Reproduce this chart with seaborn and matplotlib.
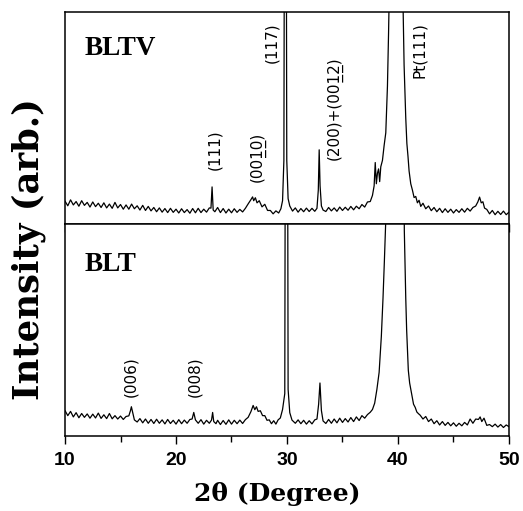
import matplotlib
matplotlib.use("Agg")
import matplotlib.pyplot as plt
from matplotlib.ticker import MultipleLocator
import seaborn as sns
import pandas as pd

# ---------------- data (intensity in % of panel height) ----------------
two_theta_bltv = [
    10.00, 10.25, 10.50, 10.75, 11.00, 11.25, 11.50, 11.75, 12.00, 12.25, 12.50, 12.75,
    13.00, 13.25, 13.50, 13.75, 14.00, 14.25, 14.50, 14.75, 15.00, 15.25, 15.50, 15.75,
    16.00, 16.25, 16.50, 16.75, 17.00, 17.25, 17.50, 17.75, 18.00, 18.25, 18.50, 18.75,
    19.00, 19.25, 19.50, 19.75, 20.00, 20.25, 20.50, 20.75, 21.00, 21.25, 21.50, 21.75,
    22.00, 22.25, 22.50, 22.75, 23.00, 23.15, 23.25, 23.35, 23.50, 23.75, 24.00, 24.25,
    24.50, 24.75, 25.00, 25.25, 25.50, 25.75, 26.00, 26.25, 26.50, 26.75, 26.90, 27.00,
    27.15, 27.30, 27.50, 27.75, 28.00, 28.25, 28.50, 28.75, 29.00, 29.25, 29.45, 29.60,
    29.72, 29.82, 29.88, 29.98, 30.10, 30.25, 30.50, 30.75, 31.00, 31.25, 31.50, 31.75,
    32.00, 32.25, 32.50, 32.70, 32.82, 32.90, 32.98, 33.10, 33.25, 33.50, 33.75, 34.00,
    34.25, 34.50, 34.75, 35.00, 35.25, 35.50, 35.75, 36.00, 36.25, 36.50, 36.75, 37.00,
    37.25, 37.50, 37.70, 37.85, 37.95, 38.05, 38.15, 38.25, 38.35, 38.45, 38.60, 38.75,
    38.90, 39.05, 39.15, 39.25, 39.50, 40.00, 40.40, 40.55, 40.70, 40.80, 40.90, 41.00,
    41.15, 41.30, 41.45, 41.60, 41.75, 41.90, 42.05, 42.25, 42.50, 42.75, 43.00, 43.25,
    43.50, 43.75, 44.00, 44.25, 44.50, 44.75, 45.00, 45.25, 45.50, 45.75, 46.00, 46.25,
    46.50, 46.75, 47.00, 47.20, 47.35, 47.50, 47.65, 47.80, 48.00, 48.25, 48.50, 48.75,
    49.00, 49.25, 49.50, 49.75, 50.00,
]
intensity_bltv = [
    10.8, 8.6, 11.4, 9.0, 10.6, 8.4, 11.0, 8.8, 10.2, 8.0, 10.4, 8.2,
    9.8, 7.8, 10.0, 7.6, 9.4, 7.4, 10.2, 7.6, 9.2, 7.0, 9.0, 7.0,
    9.4, 7.2, 8.6, 6.6, 8.8, 6.4, 8.3, 6.2, 7.8, 5.8, 7.6, 5.6,
    7.3, 5.4, 7.4, 5.5, 7.0, 5.2, 7.2, 5.4, 6.8, 5.1, 7.3, 5.3,
    7.4, 5.4, 7.0, 5.6, 7.6, 7.5, 17.5, 6.6, 5.8, 7.8, 5.4, 7.3,
    5.2, 7.0, 5.3, 7.2, 5.5, 6.9, 5.7, 7.4, 9.5, 11.5, 12.8, 11.0,
    12.4, 10.0, 11.0, 8.1, 9.3, 6.4, 6.4, 4.8, 6.2, 5.2, 7.2, 11.0,
    30.0, 300.0, 300.0, 30.0, 12.0, 8.5, 6.1, 7.6, 5.6, 7.3, 5.8, 7.5,
    5.9, 7.4, 6.0, 7.4, 16.0, 35.0, 18.0, 8.5, 6.6, 5.9, 7.8, 6.2,
    7.6, 6.0, 8.0, 6.4, 7.9, 6.5, 8.3, 6.7, 8.4, 7.2, 9.2, 8.0,
    10.4, 10.6, 13.5, 18.0, 29.0, 19.0, 24.0, 26.0, 20.0, 27.0, 30.0, 37.0,
    43.0, 65.0, 90.0, 120.0, 300.0, 300.0, 120.0, 75.0, 50.0, 38.0, 32.0, 25.0,
    19.0, 16.0, 12.5, 13.0, 10.0, 11.2, 8.3, 9.8, 7.2, 8.5, 6.3, 7.8,
    5.8, 7.4, 5.4, 7.2, 5.5, 7.0, 5.2, 6.8, 5.5, 7.2, 5.6, 7.4,
    6.1, 7.8, 8.5, 10.5, 12.7, 10.0, 10.5, 7.5, 6.9, 4.8, 6.4, 4.4,
    6.0, 4.5, 6.1, 4.4, 5.6,
]

two_theta_blt = [
    10.00, 10.25, 10.50, 10.75, 11.00, 11.25, 11.50, 11.75, 12.00, 12.25, 12.50, 12.75,
    13.00, 13.25, 13.50, 13.75, 14.00, 14.25, 14.50, 14.75, 15.00, 15.25, 15.50, 15.75,
    15.90, 15.98, 16.10, 16.25, 16.50, 16.75, 17.00, 17.25, 17.50, 17.75, 18.00, 18.25,
    18.50, 18.75, 19.00, 19.25, 19.50, 19.75, 20.00, 20.25, 20.50, 20.75, 21.00, 21.25,
    21.45, 21.60, 21.75, 22.00, 22.25, 22.50, 22.75, 23.00, 23.20, 23.30, 23.40, 23.60,
    23.75, 24.00, 24.25, 24.50, 24.75, 25.00, 25.25, 25.50, 25.75, 26.00, 26.25, 26.50,
    26.75, 26.95, 27.10, 27.25, 27.40, 27.60, 27.80, 28.00, 28.20, 28.40, 28.60, 28.80,
    29.00, 29.20, 29.40, 29.60, 29.80, 29.90, 30.00, 30.10, 30.25, 30.45, 30.75, 31.00,
    31.25, 31.50, 31.75, 32.00, 32.25, 32.50, 32.70, 32.85, 32.97, 33.10, 33.25, 33.50,
    33.75, 34.00, 34.25, 34.50, 34.75, 35.00, 35.25, 35.50, 35.75, 36.00, 36.25, 36.50,
    36.75, 37.00, 37.25, 37.50, 37.70, 37.90, 38.10, 38.30, 38.50, 38.65, 38.77, 38.92,
    39.20, 40.30, 40.57, 40.70, 40.78, 40.93, 41.05, 41.23, 41.40, 41.55, 41.70, 41.85,
    42.00, 42.25, 42.50, 42.75, 43.00, 43.25, 43.50, 43.75, 44.00, 44.25, 44.50, 44.75,
    45.00, 45.25, 45.50, 45.75, 46.00, 46.25, 46.50, 46.75, 47.00, 47.25, 47.40, 47.55,
    47.75, 48.00, 48.25, 48.50, 48.75, 49.00, 49.25, 49.50, 49.75, 50.00,
]
intensity_blt = [
    12.0, 9.6, 11.6, 9.0, 11.0, 8.6, 10.6, 8.8, 10.4, 8.4, 10.3, 8.5,
    10.8, 8.3, 10.0, 8.2, 10.6, 8.1, 9.6, 8.0, 9.4, 7.8, 9.2, 9.5,
    12.0, 13.8, 11.0, 7.6, 6.6, 8.2, 6.2, 8.0, 6.0, 7.8, 5.9, 7.9,
    6.0, 7.6, 5.7, 7.8, 5.9, 7.4, 5.6, 7.7, 5.8, 7.5, 6.0, 7.8,
    8.0, 11.1, 7.6, 6.0, 7.7, 5.6, 7.4, 6.0, 7.5, 11.1, 6.8, 5.8,
    7.4, 5.4, 7.3, 5.5, 7.6, 5.6, 7.4, 5.8, 7.5, 5.9, 7.7, 8.8,
    11.5, 14.4, 12.4, 13.8, 11.6, 11.9, 9.6, 9.6, 7.4, 7.6, 5.8, 7.2,
    5.6, 7.6, 8.5, 12.5, 20.0, 300.0, 300.0, 22.0, 11.0, 7.5, 6.0, 7.6,
    5.8, 7.4, 5.6, 7.2, 5.7, 7.6, 8.0, 15.0, 25.0, 12.0, 7.1, 5.9,
    7.8, 6.0, 8.0, 6.2, 8.4, 6.4, 8.2, 6.6, 8.7, 6.8, 9.0, 7.3,
    9.6, 8.4, 10.1, 11.2, 12.5, 15.5, 22.0, 30.0, 47.0, 65.0, 82.0, 105.0,
    300.0, 300.0, 97.0, 65.0, 50.0, 31.0, 25.0, 20.0, 15.0, 13.5, 11.3, 10.5,
    9.8, 8.0, 9.2, 6.8, 8.0, 5.8, 7.2, 5.2, 6.8, 5.0, 6.4, 4.8,
    6.2, 4.6, 6.0, 4.8, 6.4, 5.2, 8.0, 6.0, 8.0, 7.8, 9.0, 6.8,
    8.4, 5.0, 5.4, 4.4, 5.6, 4.2, 5.4, 4.0, 5.2, 4.4,
]

x_ticks = [10, 20, 30, 40, 50]
x_tick_labels = ["10", "20", "30", "40", "50"]

# peak annotations (underlined two-digit indices via combining low line)
lbl_0010 = "(001\u03320\u0332)"
lbl_0012 = "(200)+(001\u03322\u0332)"

bltv_peak_labels = ["(111)", lbl_0010, "(117)", lbl_0012, "Pt(111)"]
bltv_peak_x = [23.5, 27.4, 28.65, 34.3, 41.9]
bltv_peak_y = [25.5, 19.8, 76.0, 30.0, 69.0]

blt_peak_labels = ["(006)", "(008)"]
blt_peak_x = [15.95, 21.7]
blt_peak_y = [18.4, 18.4]

# ---------------- figure ----------------
sns.set_theme(style="ticks")
plt.rcParams["font.family"] = ["DejaVu Sans"]
plt.rcParams["text.color"] = "black"
plt.rcParams["xtick.color"] = "black"

fig = plt.figure(figsize=(5.23, 5.11), dpi=100)
ax_top = fig.add_axes([0.1243, 0.5616, 0.8489, 0.4149])
ax_bot = fig.add_axes([0.1243, 0.1468, 0.8489, 0.4148])

df_top = pd.DataFrame({"two_theta": two_theta_bltv, "intensity": intensity_bltv})
df_bot = pd.DataFrame({"two_theta": two_theta_blt, "intensity": intensity_blt})

sns.lineplot(data=df_top, x="two_theta", y="intensity", ax=ax_top, color="black",
             linewidth=0.9, estimator=None, sort=False)
sns.lineplot(data=df_bot, x="two_theta", y="intensity", ax=ax_bot, color="black",
             linewidth=0.9, estimator=None, sort=False)

for ax in (ax_top, ax_bot):
    ax.set_xlim(10, 50)
    ax.set_ylim(0, 100)
    ax.set_yticks([])
    ax.set_xlabel("")
    ax.set_ylabel("")
    for sp in ax.spines.values():
        sp.set_visible(True)
        sp.set_linewidth(1.1)
        sp.set_color("black")

ax_top.set_xticks(x_ticks)
ax_top.tick_params(axis="x", direction="out", length=6, width=1.0, labelbottom=False,
                   color="black")

ax_bot.set_xticks(x_ticks)
ax_bot.set_xticklabels(x_tick_labels)
ax_bot.xaxis.set_minor_locator(MultipleLocator(5))
ax_bot.tick_params(axis="x", which="major", direction="out", length=5.5, width=1.0,
                   pad=6, color="black", labelcolor="black")
ax_bot.tick_params(axis="x", which="minor", direction="out", length=4, width=1.0,
                   color="black")
for t in ax_bot.get_xticklabels():
    t.set_family(["Liberation Sans", "DejaVu Sans"])
    t.set_fontweight("bold")
    t.set_fontsize(14)
    t.set_color("black")

# sample names
ax_top.text(11.8, 83, "BLTV", family=["Liberation Serif", "DejaVu Serif"],
            fontweight="bold", fontsize=19.5, ha="left", va="center", color="black")
ax_bot.text(11.8, 81, "BLT", family=["Liberation Serif", "DejaVu Serif"],
            fontweight="bold", fontsize=19.5, ha="left", va="center", color="black")

# peak labels
for lab, px, py in zip(bltv_peak_labels, bltv_peak_x, bltv_peak_y):
    ax_top.text(px, py, lab, rotation=90, ha="center", va="bottom", fontsize=11,
                family=["DejaVu Sans"], color="black")
for lab, px, py in zip(blt_peak_labels, blt_peak_x, blt_peak_y):
    ax_bot.text(px, py, lab, rotation=90, ha="center", va="bottom", fontsize=11,
                family=["DejaVu Sans"], color="black")

# axis titles
fig.text(0.5306, 0.033, "2θ (Degree)", family=["DejaVu Serif"], fontweight="bold",
         fontsize=18, ha="center", va="center", color="black")
fig.text(0.054, 0.513, "Intensity (arb.)", family=["DejaVu Serif"], fontweight="bold",
         fontsize=25.5, rotation=90, ha="center", va="center", color="black")

fig.savefig("out.png", dpi=100)
